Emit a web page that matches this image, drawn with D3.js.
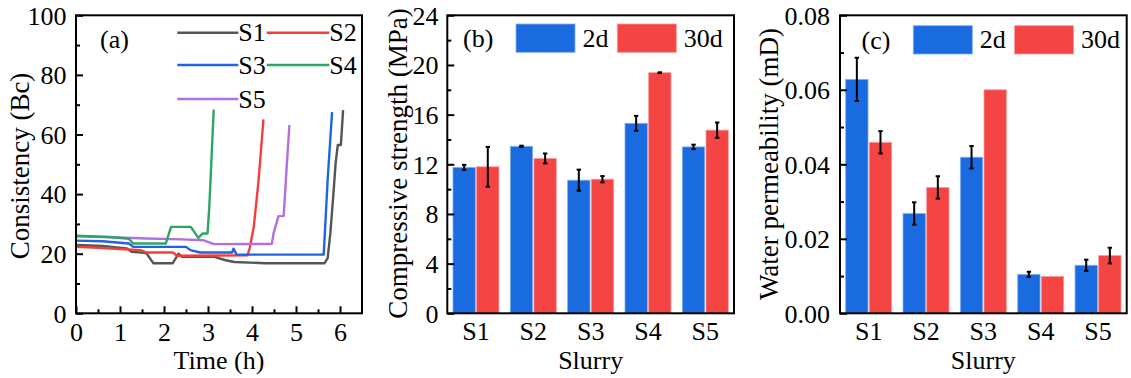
<!DOCTYPE html>
<html><head><meta charset="utf-8">
<script src="https://cdn.jsdelivr.net/npm/d3@7/dist/d3.min.js"></script>
<style>
body{margin:0;background:#fff;}
svg text{font-family:"Liberation Serif","Times New Roman","Tinos","DejaVu Serif",serif !important;fill:#000;}
</style></head>
<body><svg id="c" width="1131" height="378"></svg>
<script>
// ---------- Data ----------
const seriesNames = ["S1","S2","S3","S4","S5"];
const lineColors = ["#555555","#f43d3d","#1f66de","#2ea564","#b36ee0"];
// time (h), consistency (Bc)
const s1Time = [0,0.6,1.15,1.27,1.55,1.6,1.76,2.2,2.33,2.4,3.13,3.4,3.6,4.3,5.65,5.72,5.78,5.85,5.9,5.95,6.02,6.07];
const s1Val  = [22.9,22.6,21.8,20.6,20.3,20.1,16.8,16.8,20.0,19.0,19.0,17.8,17.2,16.8,16.8,18.5,26.8,40.0,50.3,56.5,56.5,68.2];
const s2Time = [0,0.5,1.0,1.47,1.6,2.2,2.3,3.2,3.9,3.95,4.04,4.15,4.26];
const s2Val  = [22.3,22.0,21.6,21.2,20.4,20.4,19.3,19.4,19.5,22.0,29.0,44.7,65.1];
const s3Time = [0,0.6,1.2,1.3,2.5,2.6,2.82,3.55,3.58,3.65,4.5,5.63,5.72,5.82];
const s3Val  = [24.4,24.2,23.4,22.3,22.3,21.2,20.4,20.4,21.7,19.7,19.7,19.7,45.0,67.5];
const s4Time = [0,0.76,1.2,1.3,2.04,2.16,2.61,2.78,2.88,2.99,3.03,3.13];
const s4Val  = [26.0,25.6,25.0,23.4,23.4,29.0,29.0,25.3,26.8,26.8,35.8,68.4];
const s5Time = [0,0.8,1.6,2.4,2.9,3.14,4.45,4.49,4.6,4.72,4.76,4.85];
const s5Val  = [25.8,25.5,25.1,24.8,24.5,23.2,23.3,26.8,32.6,32.7,42.5,63.2];
const xTicksA = [0,1,2,3,4,5,6];
const yTicksA = [0,20,40,60,80,100];

const categories = ["S1","S2","S3","S4","S5"];
const ages = ["2d","30d"];
const barColors = ["#1a6ae0","#f54444"];
const strength2d    = [11.75,13.45,10.72,15.3,13.4];
const strength2dErr = [0.2,0.05,0.85,0.6,0.18];
const strength30d   = [11.8,12.47,10.8,19.38,14.75];
const strength30dErr= [1.6,0.4,0.25,0.03,0.62];
const yTicksB = [0,4,8,12,16,20,24];

const perm2d     = [0.0628,0.0268,0.0419,0.01045,0.0129];
const perm2dErr  = [0.0058,0.003,0.003,0.0007,0.0015];
const perm30d    = [0.0459,0.0338,0.0600,0.0099,0.0155];
const perm30dErr = [0.003,0.003,0,0,0.0021];
const yTicksC = [0,0.02,0.04,0.06,0.08];

// ---------- Layout ----------
const svg = d3.select("#c");
const plotTop = 15.3, plotBottom = 313.3;
const FS = 26, TS = 27;

function frame(g, x0, x1){
  g.append("rect").attr("x",x0).attr("y",plotTop).attr("width",x1-x0).attr("height",plotBottom-plotTop)
    .attr("fill","none").attr("stroke","#000").attr("stroke-width",2);
}
function yAxis(x0, y, ticks, minor, fmt, labelRight){
  const ax = svg.append("g").attr("transform",`translate(${x0},0)`)
    .call(d3.axisLeft(y).tickValues(ticks).tickSize(-7).tickPadding(0).tickFormat(fmt));
  ax.select(".domain").remove();
  ax.selectAll("line").attr("stroke","#000").attr("stroke-width",2);
  ax.selectAll("text").attr("font-size",FS).attr("x",labelRight-x0).attr("text-anchor","end").attr("dy","0.34em");
  const mi = svg.append("g").attr("transform",`translate(${x0},0)`)
    .call(d3.axisLeft(y).tickValues(minor).tickSize(-4).tickFormat(""));
  mi.select(".domain").remove();
  mi.selectAll("line").attr("stroke","#000").attr("stroke-width",2);
}
function txt(){ return svg.append("text"); }
function yTitle(t, x, yc){
  txt().attr("transform",`translate(${x},${yc}) rotate(-90)`)
    .attr("text-anchor","middle").attr("font-size",TS).text(t);
}
function xTitle(t, xc){
  txt().attr("x",xc).attr("y",368.5).attr("text-anchor","middle").attr("font-size",26).text(t);
}

// ---------- Panel (a) ----------
const ax0 = 76, ax1 = 362;
const xA = d3.scaleLinear().domain([0,6.5]).range([ax0,ax1]);
const yA = d3.scaleLinear().domain([0,100]).range([plotBottom,plotTop]);
const gA = svg.append("g");
const times = [s1Time,s2Time,s3Time,s4Time,s5Time];
const vals = [s1Val,s2Val,s3Val,s4Val,s5Val];
const line = d3.line().x(d=>xA(d[0])).y(d=>yA(d[1]));
[0,1,4,3,2].forEach(i=>{
  const pts = times[i].map((t,k)=>[t,vals[i][k]]);
  gA.append("path").datum(pts).attr("d",line).attr("fill","none")
    .attr("stroke",lineColors[i]).attr("stroke-width",2.4).attr("stroke-linejoin","round");
});
yAxis(ax0, yA, yTicksA, d3.range(10,100,20), d3.format("d"), 66.5);
{
  const xa = svg.append("g").attr("transform",`translate(0,${plotBottom})`)
    .call(d3.axisBottom(xA).tickValues(xTicksA).tickSize(-7).tickFormat(d3.format("d")));
  xa.select(".domain").remove();
  xa.selectAll("line").attr("stroke","#000").attr("stroke-width",2);
  xa.selectAll("text").attr("font-size",FS).attr("y",27.5).attr("dy",0);
  const xm = svg.append("g").attr("transform",`translate(0,${plotBottom})`)
    .call(d3.axisBottom(xA).tickValues([0.5,1.5,2.5,3.5,4.5,5.5]).tickSize(-4).tickFormat(""));
  xm.select(".domain").remove();
  xm.selectAll("line").attr("stroke","#000").attr("stroke-width",2);
}
frame(svg, ax0, ax1);
txt().attr("x",100).attr("y",47.5).attr("font-size",26).text("(a)");
const legA = [[177.3,238.3,32.7],[266.7,329.3,32.7],[177.3,238.3,65],[266.7,329.3,65],[177.3,238.3,99]];
legA.forEach((p,i)=>{
  svg.append("line").attr("x1",p[0]).attr("x2",p[1]).attr("y1",p[2]).attr("y2",p[2])
    .attr("stroke",lineColors[i]).attr("stroke-width",2.4);
  txt().attr("x",p[1]).attr("y",p[2]+8.5).attr("font-size",26).text(seriesNames[i]);
});
yTitle("Consistency (Bc)", 29, 166);
xTitle("Time (h)", 219);

// ---------- Bar panels ----------
function barPanel(x0, x1, dom, ticks, minor, fmt, labelRight, d2, e2, d30, e30, label, labelX, labelY, legX, legY){
  const x = d3.scaleBand().domain(categories).range([x0,x1]).padding(0);
  const xs = d3.scaleBand().domain(ages).range([0,x.bandwidth()]).paddingInner(0.055).paddingOuter(0.24);
  const y = d3.scaleLinear().domain(dom).range([plotBottom,plotTop]);
  const data = [[d2,e2],[d30,e30]];
  const g = svg.append("g");
  ages.forEach((a,ai)=>{
    categories.forEach((c,ci)=>{
      const v = data[ai][0][ci];
      const bx = x(c)+xs(a);
      g.append("rect").attr("x",bx).attr("y",y(v)).attr("width",xs.bandwidth()).attr("height",y(0)-y(v))
        .attr("fill",barColors[ai]).attr("stroke",ai===0?"#7fb0f0":"#fa9a9a").attr("stroke-width",0.8);
    });
  });
  ages.forEach((a,ai)=>{
    categories.forEach((c,ci)=>{
      const v = data[ai][0][ci], e = data[ai][1][ci];
      if(e<=0) return;
      const cx = x(c)+xs(a)+xs.bandwidth()/2;
      g.append("line").attr("x1",cx).attr("x2",cx).attr("y1",y(v+e)).attr("y2",y(v-e)).attr("stroke","#000").attr("stroke-width",2);
      [v+e,v-e].forEach(t=>g.append("line").attr("x1",cx-2.2).attr("x2",cx+2.2).attr("y1",y(t)).attr("y2",y(t)).attr("stroke","#000").attr("stroke-width",2));
    });
  });
  yAxis(x0, y, ticks, minor, fmt, labelRight);
  const xa = svg.append("g").attr("transform",`translate(0,${plotBottom})`)
    .call(d3.axisBottom(x).tickSize(0));
  xa.select(".domain").remove();
  xa.selectAll("text").attr("font-size",FS).attr("y",26.5).attr("dy",0);
  frame(svg, x0, x1);
  txt().attr("x",labelX).attr("y",labelY).attr("font-size",26).text(label);
  const lx = [legX, legX+101.3];
  ages.forEach((a,ai)=>{
    svg.append("rect").attr("x",lx[ai]).attr("y",legY).attr("width",59).attr("height",28.3)
      .attr("fill",barColors[ai]).attr("stroke",ai===0?"#7fb0f0":"#fa9a9a").attr("stroke-width",0.8);
    txt().attr("x",lx[ai]+66.5).attr("y",legY+22.5).attr("font-size",26).text(a);
  });
  xTitle("Slurry", (x0+x1)/2);
}
barPanel(447.3, 734, [0,24], yTicksB, [2,6,10,14,18,22], d3.format("d"), 438.5,
  strength2d, strength2dErr, strength30d, strength30dErr, "(b)", 463, 46.5, 516, 24);
yTitle("Compressive strength (MPa)", 407, 163.5);

barPanel(840, 1126.7, [0,0.08], yTicksC, [0.01,0.03,0.05,0.07], d3.format(".2f"), 830,
  perm2d, perm2dErr, perm30d, perm30dErr, "(c)", 861.5, 49, 913.3, 25.7);
yTitle("Water permeability (mD)", 778, 164);
</script></body></html>
